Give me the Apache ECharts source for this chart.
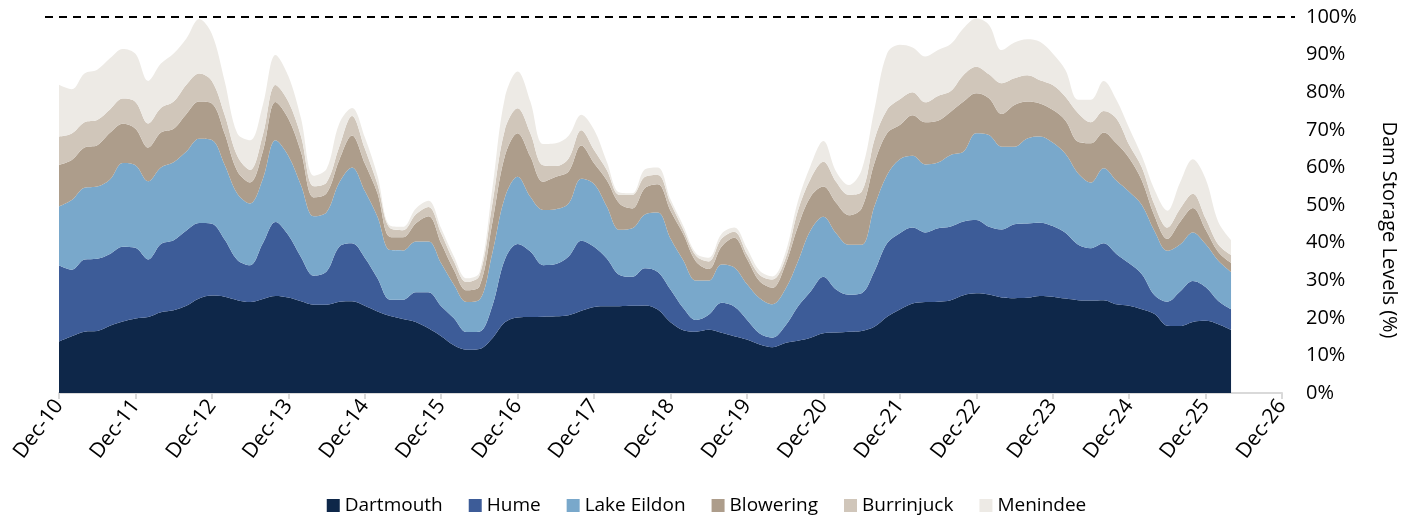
<!DOCTYPE html>
<html>
<head>
<meta charset="utf-8">
<script src="https://cdn.jsdelivr.net/npm/echarts@6/dist/echarts.min.js"></script>
<style>
html,body{margin:0;padding:0;background:#fff;}
#chart{width:1413px;height:515px;}
</style>
</head>
<body>
<div id="chart"></div>
<script>
// x positions: months since Dec-2010 (bimonthly readings)
const monthOffsets = [0,2,4,6,8,10,12,14,16,18,20,22,24,26,28,30,32,34,36,38,40,42,44,46,48,50,52,54,56,58,60,62,64,66,68,70,72,74,76,78,80,82,84,86,88,90,92,94,96,98,100,102,104,106,108,110,112,114,116,118,120,122,124,126,128,130,132,134,136,138,140,142,144,146,148,150,152,154,156,158,160,162,164,166,168,170,172,174,176,178,180,182,184];
// the axis runs on to Dec-26 with no data
const axisMonths = monthOffsets.concat([186,188,190,192]);
const tickLabels = ['Dec-10','Dec-11','Dec-12','Dec-13','Dec-14','Dec-15','Dec-16','Dec-17','Dec-18','Dec-19','Dec-20','Dec-21','Dec-22','Dec-23','Dec-24','Dec-25','Dec-26'];
const seriesNames = ['Dartmouth','Hume','Lake Eildon','Blowering','Burrinjuck','Menindee'];
const fullLevel = 100;

const dartmouth = [13.7,15.1,16.3,16.5,17.9,19.0,19.8,20.2,21.5,22.0,23.2,25.1,25.9,25.6,24.7,24.2,25.0,25.8,25.4,24.4,23.5,23.5,24.3,24.4,23.2,21.7,20.5,19.7,18.9,17.2,15.1,12.7,11.5,11.7,14.5,18.8,20.1,20.2,20.3,20.4,20.7,21.9,22.9,23.1,23.1,23.2,23.3,22.2,18.8,16.7,16.3,16.8,16.0,15.1,14.2,12.9,12.2,13.3,13.9,14.7,15.9,16.1,16.3,16.5,17.6,20.3,22.2,23.8,24.2,24.3,24.7,26.0,26.5,26.2,25.4,25.2,25.3,25.8,25.6,25.1,24.7,24.6,24.7,23.6,23.2,22.3,21.0,17.9,17.8,18.9,19.2,18.3,16.8];
const hume = [20.3,17.7,19.2,19.2,19.1,19.9,18.8,15.3,18.1,18.6,20.0,20.1,19.1,15.2,10.7,9.8,14.8,19.7,16.6,11.7,7.7,8.8,14.6,15.4,12.8,8.8,4.3,5.1,7.9,9.6,8.0,7.2,4.7,4.6,8.5,16.7,19.5,17.4,13.7,13.9,15.6,18.6,16.0,12.7,8.3,7.7,9.9,10.0,8.7,5.9,3.1,4.0,8.0,7.9,5.3,2.9,2.5,4.5,9.1,12.3,15.0,11.4,9.8,10.0,14.7,19.5,20.3,20.2,18.5,19.5,19.6,19.6,19.5,18.0,18.1,19.7,19.8,19.5,18.8,17.5,14.7,13.9,15.1,13.4,11.3,9.3,5.0,6.4,9.2,10.9,9.0,6.2,5.5];
const lakeEildon = [15.6,18.5,19.1,19.2,19.8,22.3,22.0,20.8,20.4,20.8,21.0,22.4,22.3,19.9,17.6,16.4,17.1,21.7,21.1,19.1,15.8,15.8,17.1,20.2,17.8,16.4,13.2,13.1,13.5,13.5,11.4,8.9,8.0,8.5,14.0,16.5,17.9,14.6,14.7,14.6,14.1,16.5,16.7,13.8,12.0,12.9,14.3,15.8,13.6,12.7,10.5,9.1,10.2,10.4,9.5,9.4,8.9,9.7,12.0,16.3,16.0,15.0,13.3,12.9,17.3,18.2,19.7,19.1,18.1,17.5,19.0,18.6,23.1,24.4,22.0,20.6,22.6,22.9,22.2,21.0,19.0,17.5,20.0,19.5,19.0,18.4,17.0,13.5,12.5,12.9,11.4,10.7,9.9];
const blowering = [11.1,10.7,10.7,11.0,12.4,10.4,9.7,9.0,9.3,8.9,10.0,9.9,9.7,8.3,6.0,5.6,7.3,10.2,9.9,8.8,5.0,5.0,6.0,8.5,7.3,6.2,3.5,3.5,4.8,6.7,5.3,3.9,3.1,3.5,8.0,11.0,11.6,10.7,7.5,8.6,8.5,8.8,5.5,7.0,7.0,5.3,7.0,7.5,7.4,7.0,5.1,3.1,4.7,7.9,6.7,4.5,4.4,6.5,9.3,8.9,8.0,8.1,7.9,9.7,11.5,11.1,9.1,10.8,11.2,11.1,11.5,13.3,10.6,9.8,8.7,11.1,9.8,8.8,8.7,8.9,8.4,10.4,9.5,9.9,9.0,6.5,4.0,3.2,6.0,6.5,3.9,2.3,2.4];
const burrinjuck = [7.5,7.0,6.7,6.7,6.2,6.7,7.1,6.4,6.5,7.2,7.8,7.5,6.0,5.0,4.0,3.3,4.4,4.5,4.5,4.2,3.0,2.9,3.5,5.2,4.0,2.4,2.3,1.9,2.4,2.5,2.7,2.3,2.2,2.9,5.0,7.0,6.6,6.2,4.4,2.9,3.5,4.1,3.5,2.7,2.3,3.6,3.0,2.5,2.0,1.2,1.5,2.0,2.1,1.6,1.3,1.7,2.2,1.5,4.2,4.8,6.6,5.6,5.4,4.4,6.2,6.2,6.8,6.1,5.3,6.6,5.5,7.1,7.1,6.4,8.2,7.1,7.0,6.2,6.6,6.3,7.6,5.6,5.7,6.6,3.5,3.5,3.0,3.0,3.5,3.8,3.0,2.0,2.1];
const menindee = [13.8,11.8,13.0,13.4,13.6,13.2,12.8,11.3,11.8,12.8,12.3,14.5,12.5,9.0,6.0,7.9,8.0,8.0,6.8,4.8,2.8,3.6,6.2,2.1,3.0,2.3,0.7,0.9,1.5,1.6,1.3,1.3,1.0,0.8,4.0,8.5,9.8,8.4,5.6,6.0,6.0,4.1,5.4,2.2,0.6,0.4,2.0,2.0,1.0,1.0,0.7,1.0,1.3,1.1,1.5,1.1,0.8,1.6,2.5,3.5,5.5,2.7,2.6,5.8,8.0,15.0,14.5,11.9,12.2,12.2,12.5,12.4,12.8,13.1,8.8,9.5,9.6,10.2,8.4,7.1,3.6,6.0,8.0,5.0,4.5,3.0,4.0,4.5,7.0,9.2,10.5,6.0,4.0];

const colors = ['#0E2749','#3D5C98','#79A8CB','#AD9D8B','#D0C6BA','#EDEAE5'];
const values = [dartmouth, hume, lakeEildon, blowering, burrinjuck, menindee];
const FONT = 'Open Sans';
const FS = 20;

const series = seriesNames.map((name, i) => ({
  name: name,
  type: 'line',
  stack: 'dams',
  smooth: 0.35,
  showSymbol: false,
  symbol: 'none',
  lineStyle: {width: 0},
  areaStyle: {color: colors[i], opacity: 1},
  itemStyle: {color: colors[i]},
  data: values[i]
}));

const isYearTick = (idx) => axisMonths[idx] % 12 === 0;

const chart = echarts.init(document.getElementById('chart'), null, {renderer: 'canvas'});
chart.setOption({
  animation: false,
  backgroundColor: '#fff',
  textStyle: {fontFamily: FONT},
  color: colors,
  grid: {left: 59, right: 131, top: 17, bottom: 122, containLabel: false},
  legend: {
    bottom: -5,
    left: 'center',
    icon: 'rect',
    itemWidth: 13,
    itemHeight: 13,
    itemGap: 26,
    textStyle: {fontSize: 19, color: '#000', fontFamily: FONT},
    data: seriesNames
  },
  xAxis: {
    type: 'category',
    boundaryGap: false,
    data: axisMonths,
    axisLine: {show: true, lineStyle: {color: '#D9D9D9', width: 2}},
    axisTick: {show: true, length: 6, interval: isYearTick, lineStyle: {color: '#D9D9D9', width: 2}},
    splitLine: {show: false},
    axisLabel: {
      rotate: 53,
      margin: 9,
      fontSize: 21,
      color: '#000',
      fontFamily: FONT,
      interval: isYearTick,
      formatter: v => tickLabels[Math.round(Number(v) / 12)] || ''
    }
  },
  yAxis: {
    type: 'value',
    position: 'right',
    min: 0,
    max: 100,
    interval: 10,
    axisLine: {show: false},
    axisTick: {show: false},
    splitLine: {show: false},
    axisLabel: {
      margin: 24,
      fontSize: FS,
      color: '#000',
      fontFamily: FONT,
      formatter: '{value}%'
    },
    name: 'Dam Storage Levels (%)',
    nameLocation: 'middle',
    nameRotate: -90,
    nameGap: 97,
    nameTextStyle: {fontSize: FS, color: '#000', fontFamily: FONT, padding: [0, 0, 0, 50]}
  },
  series: series
});

// dashed 100% reference line, slightly wider than the plot area
const yFull = chart.convertToPixel({yAxisIndex: 0}, fullLevel);
const xStart = chart.convertToPixel({xAxisIndex: 0}, 0);
const xEnd = chart.convertToPixel({xAxisIndex: 0}, axisMonths.length - 1);
chart.setOption({
  graphic: [{
    type: 'line',
    silent: true,
    z: 10,
    shape: {x1: xStart - 14, y1: yFull, x2: xEnd + 13, y2: yFull},
    style: {stroke: '#000', lineWidth: 2, lineDash: [8, 6]}
  }]
});
</script>
</body>
</html>
